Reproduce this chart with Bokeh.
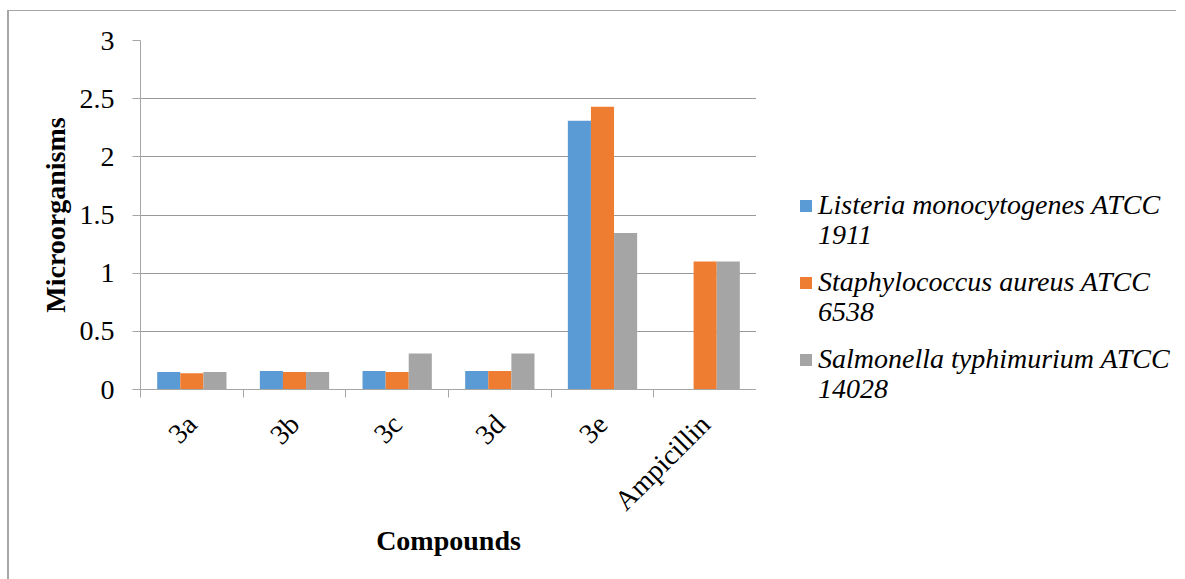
from bokeh.plotting import figure
from bokeh.layouts import row, column
from bokeh.models import (Range1d, FixedTicker, LinearAxis, Legend, LegendItem, Grid)
from bokeh.embed import file_html
from bokeh.resources import INLINE

# ---- data ----
categories = ["3a", "3b", "3c", "3d", "3e", "Ampicillin"]
listeria = [0.15, 0.16, 0.16, 0.16, 2.31, 0.0]
staph = [0.14, 0.15, 0.15, 0.16, 2.43, 1.10]
salmonella = [0.15, 0.15, 0.31, 0.31, 1.345, 1.10]
series_line1 = ["Listeria monocytogenes ATCC",
                "Staphylococcus aureus ATCC",
                "Salmonella typhimurium ATCC"]
series_line2 = ["1911", "6538", "14028"]
y_ticks = [0, 0.5, 1, 1.5, 2, 2.5, 3]
y_tick_labels = ["0", "0.5", "1", "1.5", "2", "2.5", "3"]
x_title = "Compounds"
y_title = "Microorganisms"

colors = ["#5b9bd5", "#ef7d31", "#a5a5a5"]
FONT = "Liberation Serif"

p = figure(frame_width=616, frame_height=349, output_backend="svg", toolbar_location=None,
           x_range=Range1d(0, len(categories)), y_range=Range1d(0, 3),
           min_border_left=131, min_border_top=29, min_border_bottom=190,
           min_border_right=0, x_axis_type=None, y_axis_type=None)
p.outline_line_color = None
p.background_fill_color = "white"

centers = [i + 0.5 for i in range(len(categories))]
bw = 0.225
offsets = [-bw, 0.0, bw]
for vals, off, col in zip([listeria, staph, salmonella], offsets, colors):
    xs = [c + off for c in centers]
    p.vbar(x=xs, top=vals, width=bw, fill_color=col, line_color=None)

# y axis
yax = LinearAxis(ticker=FixedTicker(ticks=y_ticks))
yax.major_label_overrides = {t: l for t, l in zip(y_ticks, y_tick_labels)}
yax.axis_line_color = "#a6a6a6"
yax.major_tick_line_color = "#a6a6a6"
yax.major_tick_out = 8
yax.major_tick_in = 0
yax.minor_tick_line_color = None
yax.major_label_text_font = FONT
yax.major_label_text_font_size = "28px"
yax.major_label_text_color = "black"
yax.major_label_standoff = 18
yax.axis_label = y_title
yax.axis_label_text_font = FONT
yax.axis_label_text_font_size = "28px"
yax.axis_label_text_font_style = "bold"
yax.axis_label_text_color = "black"
yax.axis_label_standoff = 6
p.add_layout(yax, "left")

# x axis
xax = LinearAxis(ticker=FixedTicker(ticks=centers, minor_ticks=list(range(len(categories) + 1))))
xax.major_label_overrides = {c: n for c, n in zip(centers, categories)}
xax.axis_line_color = "#a6a6a6"
xax.major_tick_line_color = None
xax.major_tick_out = 0
xax.major_tick_in = 0
xax.minor_tick_line_color = "#a6a6a6"
xax.minor_tick_out = 8
xax.minor_tick_in = 0
xax.major_label_orientation = 0.785398
xax.major_label_text_font = FONT
xax.major_label_text_font_size = "28px"
xax.major_label_text_color = "black"
xax.major_label_standoff = 22
xax.axis_label = x_title
xax.axis_label_text_font = FONT
xax.axis_label_text_font_size = "28px"
xax.axis_label_text_font_style = "bold"
xax.axis_label_text_color = "black"
xax.axis_label_standoff = -5
p.add_layout(xax, "below")

g = Grid(dimension=1, ticker=FixedTicker(ticks=y_ticks), grid_line_color="#999999", grid_line_width=1)
p.add_layout(g)

# ---- legend panel (second figure, same height) ----
pl = figure(width=420, height=568, output_backend="svg", toolbar_location=None,
            x_range=Range1d(0, 1), y_range=Range1d(0, 1),
            min_border=0, x_axis_type=None, y_axis_type=None)
pl.outline_line_color = None
pl.xgrid.visible = False
pl.ygrid.visible = False
# proxy glyphs (outside the visible range) that carry the series colours for the legend
proxies = [pl.vbar(x=[-10], top=[0], width=0.1, fill_color=c, line_color=None) for c in colors]


def make_legend(labels, loc, glyph_w):
    lg = Legend(items=[LegendItem(label=n, renderers=[r]) for n, r in zip(labels, proxies)],
                location=loc, orientation="vertical")
    lg.border_line_color = None
    lg.background_fill_alpha = 0
    lg.padding = 0
    lg.margin = 0
    lg.glyph_width = glyph_w
    lg.glyph_height = 15
    lg.label_standoff = 5
    lg.spacing = 45
    lg.label_text_font = FONT
    lg.label_text_font_size = "28px"
    lg.label_text_font_style = "italic"
    lg.label_text_color = "black"
    return lg


pl.add_layout(make_legend(series_line1, (42, 204), 15), "center")
pl.add_layout(make_legend(series_line2, (57, 174), 0), "center")

layout = row(p, column(pl))
layout.styles = {"border-top": "1px solid #a6a6a6", "border-left": "2px solid #a6a6a6",
                 "margin-top": "10px", "margin-left": "7px"}

open("out.html", "w").write(file_html(layout, INLINE))
